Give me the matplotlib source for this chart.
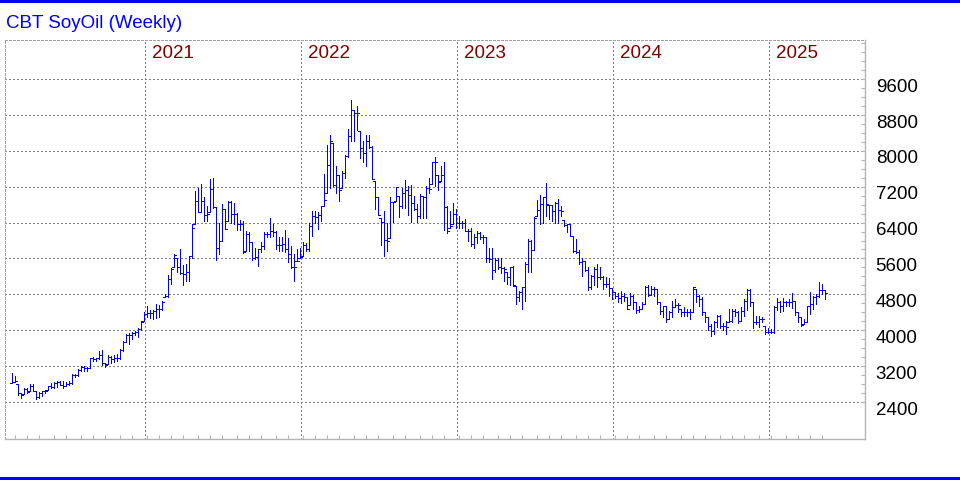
import matplotlib
matplotlib.use('Agg')
import matplotlib.pyplot as plt
import matplotlib.transforms as mtransforms
from matplotlib.patches import Rectangle
import numpy as np
import pandas as pd

plt.rcParams['font.family'] = ['Liberation Sans', 'DejaVu Sans']

title = 'CBT SoyOil (Weekly)'
first_week = '2020-02-28'   # weekly bars, dated on Fridays

opens = [2830, 2850, 2860, 2610, 2550, 2680, 2630, 2760, 2650, 2520,
         2610, 2640, 2650, 2760, 2740, 2820, 2850, 2780, 2760, 2810,
         2830, 3000, 3010, 3110, 3180, 3160, 3160, 3370, 3350, 3370,
         3440, 3280, 3220, 3410, 3350, 3390, 3380, 3560, 3740, 3890,
         3890, 3940, 3970, 4030, 4190, 4360, 4390, 4380, 4430, 4470,
         4470, 4640, 4770, 5140, 5370, 5680, 5400, 5270, 5250, 5290,
         5650, 6290, 6870, 6640, 6870, 6570, 6590, 7150, 6740, 5830,
         6000, 6700, 6260, 6850, 6600, 6600, 6360, 6360, 5750, 6140,
         5960, 5600, 5640, 5800, 5870, 6140, 6140, 6210, 6180, 5900,
         5900, 5920, 5820, 5700, 5400, 5400, 5550, 5640, 5910, 5800,
         6320, 6540, 6530, 6560, 6760, 6900, 7690, 8210, 7240, 7470,
         7130, 7500, 7890, 8330, 8900, 8840, 8840, 8060, 7950, 8210,
         8080, 7370, 6980, 6560, 6410, 6020, 5980, 6850, 6850, 7190,
         6780, 7070, 7130, 7020, 6840, 6700, 6540, 7000, 6970, 7170,
         7150, 7740, 7740, 7300, 7470, 6750, 6210, 6330, 6600, 6380,
         6380, 6380, 6210, 6210, 5920, 6070, 6160, 6070, 6070, 5620,
         5590, 5350, 5570, 5400, 5380, 5360, 5180, 5420, 5010, 4730,
         4860, 4960, 5470, 5990, 5790, 6510, 6680, 6810, 6960, 6810,
         6790, 6660, 6830, 6680, 6660, 6340, 6360, 6100, 5770, 5750,
         5530, 5550, 5350, 4960, 5200, 5360, 5180, 5180, 5030, 5030,
         4950, 4850, 4760, 4710, 4760, 4730, 4480, 4760, 4620, 4460,
         4470, 4580, 4970, 4780, 4930, 4930, 4620, 4430, 4530, 4250,
         4410, 4510, 4560, 4560, 4400, 4410, 4410, 4400, 4970, 4760,
         4690, 4400, 4290, 4100, 3990, 4180, 4320, 4100, 4100, 4070,
         4210, 4430, 4400, 4210, 4430, 4650, 4900, 4620, 4180, 4180,
         4260, 4250, 3960, 3960, 3960, 4510, 4620, 4540, 4620, 4620,
         4630, 4650, 4400, 4290, 4120, 4180, 4530, 4580, 4730, 4760,
         4900, 4900]

highs = [3040, 2980, 2800, 2610, 2710, 2720, 2790, 2790, 2650, 2630,
         2650, 2660, 2760, 2830, 2850, 2870, 2870, 2860, 2850, 2870,
         3020, 3030, 3130, 3210, 3200, 3190, 3380, 3410, 3380, 3540,
         3560, 3280, 3440, 3430, 3440, 3460, 3590, 3760, 3910, 3940,
         3970, 3990, 4040, 4210, 4410, 4540, 4440, 4440, 4580, 4570,
         4660, 4800, 5230, 5380, 5700, 5600, 5820, 5450, 5480, 5650,
         6370, 7110, 7160, 7260, 6960, 6780, 7370, 7390, 6740, 6400,
         6810, 6700, 6890, 6880, 6830, 6620, 6460, 6440, 6210, 6180,
         5970, 5840, 5810, 5970, 6200, 6180, 6510, 6360, 6210, 6070,
         6070, 6240, 6050, 5870, 5700, 5820, 5840, 5960, 5950, 6390,
         6650, 6650, 6630, 6760, 7490, 8130, 8360, 8170, 7670, 7470,
         7540, 7910, 8480, 9130, 8910, 8990, 8450, 8210, 8360, 8360,
         8100, 7320, 6970, 6500, 6650, 6390, 6970, 6850, 7190, 6990,
         7170, 7340, 7220, 7240, 6990, 6810, 7030, 6990, 7210, 7390,
         7760, 7870, 7460, 7650, 7740, 6760, 6650, 6840, 6700, 6550,
         6440, 6490, 6250, 6270, 6140, 6210, 6190, 6120, 6070, 5840,
         5840, 5620, 5600, 5620, 5400, 5290, 5420, 5440, 4990, 4880,
         4960, 5510, 6030, 6010, 6530, 6900, 7010, 6960, 7290, 6790,
         6790, 6860, 6930, 6760, 6460, 6360, 6360, 6100, 6030, 5790,
         5620, 5550, 5400, 5230, 5400, 5470, 5400, 5200, 5180, 5170,
         4950, 4850, 4820, 4870, 4840, 4730, 4840, 4780, 4620, 4540,
         4620, 4980, 5000, 4980, 4970, 4930, 4630, 4540, 4540, 4430,
         4650, 4690, 4600, 4480, 4510, 4480, 4470, 4970, 4910, 4780,
         4730, 4400, 4290, 4140, 4210, 4340, 4340, 4160, 4210, 4480,
         4480, 4470, 4430, 4510, 4690, 4910, 4920, 4620, 4320, 4310,
         4300, 4090, 4060, 4030, 4530, 4710, 4650, 4710, 4650, 4690,
         4820, 4650, 4410, 4290, 4260, 4540, 4850, 4760, 4800, 5070,
         5020, 4900]

lows = [2820, 2850, 2560, 2480, 2570, 2600, 2640, 2650, 2460, 2480,
        2540, 2610, 2670, 2710, 2710, 2740, 2770, 2710, 2760, 2780,
        2800, 2950, 2980, 3090, 3100, 3100, 3150, 3310, 3320, 3350,
        3220, 3190, 3240, 3260, 3300, 3320, 3350, 3540, 3740, 3700,
        3800, 3900, 3840, 4010, 4210, 4290, 4270, 4260, 4270, 4290,
        4440, 4730, 4730, 5030, 5400, 5300, 5250, 5010, 5100, 5100,
        5600, 6370, 6640, 6630, 6440, 6440, 6630, 6720, 5570, 5690,
        6000, 6260, 6440, 6400, 6360, 6240, 6240, 5730, 5770, 5770,
        5570, 5590, 5440, 5740, 5820, 6070, 6070, 6100, 5820, 5770,
        5770, 5750, 5510, 5380, 5100, 5550, 5620, 5650, 5760, 5760,
        6110, 6390, 6260, 6430, 6760, 7070, 7170, 7210, 7060, 6870,
        7170, 7390, 7870, 8210, 8210, 8470, 7840, 7760, 7650, 8060,
        7370, 6700, 6560, 5890, 5650, 5760, 6060, 6410, 6870, 6530,
        6730, 6730, 6560, 6410, 6670, 6410, 6500, 6500, 6500, 7060,
        7270, 7210, 7130, 7320, 6240, 6170, 6280, 6360, 6290, 6270,
        6290, 6210, 5990, 5870, 5840, 5940, 6030, 5940, 5510, 5510,
        5140, 5290, 5360, 5270, 5100, 5030, 5010, 4990, 4580, 4660,
        4470, 4660, 5300, 5300, 5790, 6550, 6370, 6400, 6550, 6490,
        6440, 6400, 6390, 6550, 6330, 6180, 6090, 5750, 5720, 5470,
        5210, 5330, 4900, 4930, 5010, 4960, 5140, 4930, 4960, 4760,
        4690, 4710, 4630, 4600, 4650, 4470, 4560, 4470, 4380, 4400,
        4480, 4580, 4760, 4780, 4760, 4580, 4360, 4290, 4190, 4250,
        4290, 4510, 4400, 4320, 4310, 4320, 4260, 4400, 4630, 4540,
        4340, 4190, 4010, 3870, 3920, 4070, 4040, 4010, 3920, 4190,
        4180, 4320, 4160, 4210, 4320, 4440, 4540, 4040, 4140, 4070,
        4180, 3920, 3940, 3940, 3940, 4460, 4410, 4430, 4540, 4530,
        4500, 4340, 4180, 4090, 4140, 4180, 4360, 4480, 4580, 4730,
        4800, 4700]

closes = [2850, 2860, 2610, 2550, 2680, 2630, 2760, 2650, 2520, 2610,
          2640, 2650, 2760, 2740, 2820, 2850, 2780, 2760, 2810, 2830,
          3000, 3010, 3110, 3180, 3160, 3160, 3370, 3350, 3370, 3440,
          3280, 3220, 3410, 3350, 3390, 3380, 3560, 3740, 3890, 3890,
          3940, 3970, 4030, 4190, 4360, 4390, 4380, 4430, 4470, 4470,
          4640, 4770, 5140, 5370, 5680, 5400, 5270, 5250, 5290, 5650,
          6290, 6870, 6640, 6870, 6570, 6590, 7150, 6740, 5830, 6000,
          6700, 6260, 6850, 6600, 6600, 6360, 6360, 5750, 6140, 5960,
          5600, 5640, 5800, 5870, 6140, 6140, 6210, 6180, 5900, 5900,
          5920, 5820, 5700, 5400, 5400, 5550, 5640, 5910, 5800, 6320,
          6540, 6530, 6560, 6760, 6900, 7690, 8210, 7240, 7470, 7130,
          7500, 7890, 8330, 8900, 8840, 8840, 8060, 7950, 8210, 8080,
          7370, 6980, 6560, 6410, 6020, 5980, 6850, 6850, 7190, 6780,
          7070, 7130, 7020, 6840, 6700, 6540, 7000, 6970, 7170, 7150,
          7740, 7740, 7300, 7470, 6750, 6210, 6330, 6600, 6380, 6380,
          6380, 6210, 6210, 5920, 6070, 6160, 6070, 6070, 5620, 5590,
          5350, 5570, 5400, 5380, 5360, 5180, 5420, 5010, 4730, 4860,
          4960, 5470, 5990, 5790, 6510, 6680, 6810, 6960, 6810, 6790,
          6660, 6830, 6680, 6660, 6340, 6360, 6100, 5770, 5750, 5530,
          5550, 5350, 4960, 5200, 5360, 5180, 5180, 5030, 5030, 4950,
          4850, 4760, 4710, 4760, 4730, 4480, 4760, 4620, 4460, 4470,
          4580, 4970, 4780, 4930, 4930, 4620, 4430, 4530, 4250, 4410,
          4510, 4560, 4560, 4400, 4410, 4410, 4400, 4970, 4760, 4690,
          4400, 4290, 4100, 3990, 4180, 4320, 4100, 4100, 4070, 4210,
          4430, 4400, 4210, 4430, 4650, 4900, 4620, 4180, 4180, 4260,
          4250, 3960, 3960, 3960, 4510, 4620, 4540, 4620, 4620, 4630,
          4650, 4400, 4290, 4120, 4180, 4530, 4580, 4730, 4760, 4900,
          4900, 4820]

price_labels = [2400, 3200, 4000, 4800, 5600, 6400, 7200, 8000, 8800, 9600]

blue = '#0000ff'
grid_col = '#808080'
frame_col = '#b4b4b4'
dots = (0, (1, 2.7))

n = len(closes)
dates = pd.date_range(first_week, periods=n, freq='W-FRI')
# the New Year's week closes on the Thursday before
dates = pd.DatetimeIndex([d - pd.Timedelta(days=1) if (d.month == 1 and d.day == 1) else d
                          for d in dates])
x = np.arange(n)
o = np.clip(opens, lows, highs)

fig = plt.figure(figsize=(9.6, 4.8), dpi=100)
ax = fig.add_axes([5 / 960, 41 / 480, 860 / 960, 399 / 480])
x0 = -7.3 / 3
ax.set_xlim(x0, x0 + 860 / 3)
ax.set_ylim(1575, 10470)

# grid
for v in price_labels:
    ax.axhline(v, color=grid_col, lw=0.75, ls=dots, zorder=1, antialiased=False)

new_year = [i for i in range(1, n) if dates[i].year != dates[i - 1].year]
new_month = [i for i in range(1, n) if dates[i].month != dates[i - 1].month]
for i in new_year:
    xg = i - 0.77
    ax.axvline(xg, color=grid_col, lw=0.75, ls=dots, zorder=1, antialiased=False)
    ax.text(xg + 7 / 3, 1 - 18.3 / 399, str(dates[i].year),
            transform=ax.get_xaxis_transform(), color='#800000',
            fontsize=13.5, ha='left', va='baseline')

# OHLC bars
bar_kw = dict(color=blue, lw=0.5, zorder=3, antialiased=False)
ax.vlines(x, lows, highs, **bar_kw)
ax.hlines(o, x - 0.62, x, **bar_kw)
ax.hlines(closes, x, x + 0.62, **bar_kw)

# frame
for s in ['top', 'left']:
    ax.spines[s].set_linestyle(dots)
    ax.spines[s].set_color('#a0a0a0')
    ax.spines[s].set_linewidth(0.75)
    ax.spines[s].set_antialiased(False)
for s in ['right', 'bottom']:
    ax.spines[s].set_color(frame_col)
    ax.spines[s].set_linewidth(1.0)

ax.set_xticks(new_month)
ax.yaxis.tick_right()
ax.set_yticks(np.arange(2400, 10401, 200))
ax.tick_params(axis='both', direction='in', length=3, width=0.8, color=frame_col,
               labelbottom=False, labelright=False, labelleft=False)

lab_tr = mtransforms.offset_copy(ax.get_yaxis_transform(), fig=fig, x=0, y=-12.7, units='dots')
for v in price_labels:
    ax.text(1 + 10.7 / 860, v, str(v), transform=lab_tr, fontsize=13.5,
            ha='left', va='baseline', color='black')

fig.text(6 / 960, 1 - 28.3 / 480, title, color=blue, fontsize=13.5,
         ha='left', va='baseline')
fig.patches.append(Rectangle((0, 1 - 3 / 480), 1, 3 / 480, transform=fig.transFigure,
                             color=blue, lw=0))
fig.patches.append(Rectangle((0, 0), 1, 3 / 480, transform=fig.transFigure,
                             color=blue, lw=0))

fig.savefig('out.png', dpi=100)
